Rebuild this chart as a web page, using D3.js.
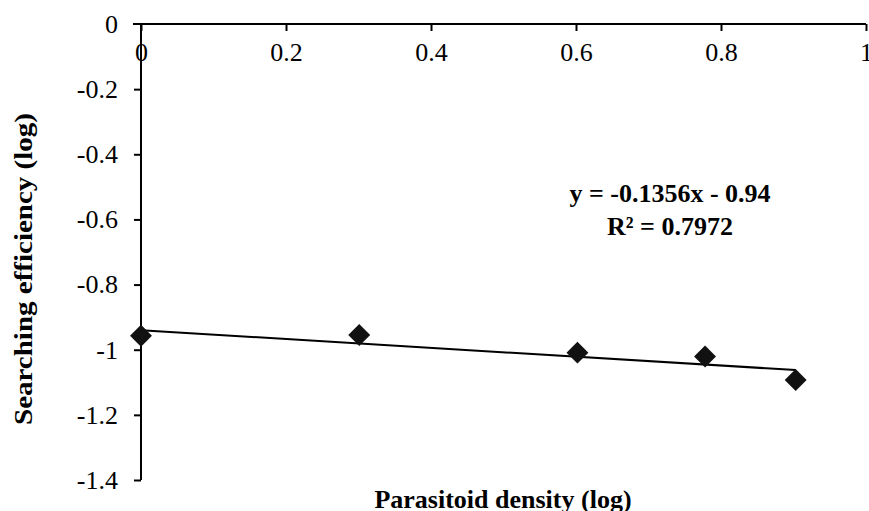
<!DOCTYPE html>
<html><head><meta charset="utf-8">
<script src="https://cdn.jsdelivr.net/npm/d3@7"></script>
<style>body{margin:0;background:#fff}svg{display:block}</style>
</head><body>
<svg id="c" width="869" height="511"></svg>
<script>
const xValues = [0, 0.301, 0.602, 0.778, 0.903];
const yValues = [-0.957, -0.955, -1.009, -1.021, -1.093];
const xTicks = [0, 0.2, 0.4, 0.6, 0.8, 1];
const yTicks = [0, -0.2, -0.4, -0.6, -0.8, -1, -1.2, -1.4];
const slope = -0.1356, intercept = -0.94;
const eqLines = ["y = -0.1356x - 0.94", "R² = 0.7972"];

const svg = d3.select("#c");
const font = "'Liberation Serif','Times New Roman',serif";
const fmt = d => String(+d.toFixed(1));
const x = d3.scaleLinear().domain([0, 1]).range([141, 866]);
const y = d3.scaleLinear().domain([0, -1.4]).range([24, 480]);

// x axis at top (y=0), labels below line
const xa = svg.append("g").attr("transform", `translate(0,${y(0)})`)
  .call(d3.axisBottom(x).tickValues(xTicks).tickFormat(fmt).tickSize(7).tickPadding(12));
xa.select(".domain").attr("stroke", "#000").attr("stroke-width", 2).attr("d", `M${x(0)-8},0H${x(1)}`);
xa.selectAll(".tick line").attr("stroke", "#000").attr("stroke-width", 2);
xa.selectAll(".tick text").attr("font-family", font).attr("font-size", 26).attr("fill", "#000");

const ya = svg.append("g").attr("transform", `translate(${x(0)},0)`)
  .call(d3.axisLeft(y).tickValues(yTicks).tickFormat(fmt).tickSize(7).tickPadding(16));
ya.select(".domain").attr("stroke", "#000").attr("stroke-width", 2).attr("d", `M0,${y(0)}V${y(-1.4)}`);
ya.selectAll(".tick line").attr("stroke", "#000").attr("stroke-width", 2);
ya.selectAll(".tick text").attr("font-family", font).attr("font-size", 26).attr("fill", "#000");
ya.selectAll(".tick").filter(d => d === 0).select("line").remove();

// trendline
const xmin = d3.min(xValues), xmax = d3.max(xValues);
svg.append("line")
  .attr("x1", x(xmin)).attr("y1", y(slope * xmin + intercept))
  .attr("x2", x(xmax)).attr("y2", y(slope * xmax + intercept))
  .attr("stroke", "#000").attr("stroke-width", 2);

// diamonds
const data = xValues.map((v, i) => [v, yValues[i]]);
svg.append("g").selectAll("path").data(data).join("path")
  .attr("d", d3.symbol().type(d3.symbolSquare).size(240))
  .attr("transform", d => `translate(${x(d[0])},${y(d[1])}) rotate(45)`)
  .attr("fill", "#111");

// equation
svg.append("g").selectAll("text").data(eqLines).join("text")
  .attr("x", 670).attr("y", (d, i) => 202 + i * 33)
  .attr("text-anchor", "middle").attr("font-family", font)
  .attr("font-weight", "bold").attr("font-size", 26).attr("fill", "#000")
  .text(d => d);

// axis titles
svg.append("text").attr("x", 503).attr("y", 508).attr("text-anchor", "middle")
  .attr("font-family", font).attr("font-weight", "bold").attr("font-size", 26)
  .text("Parasitoid density (log)");
svg.append("text").attr("transform", "translate(32,269) rotate(-90)").attr("text-anchor", "middle")
  .attr("font-family", font).attr("font-weight", "bold").attr("font-size", 26)
  .attr("textLength", 312).attr("lengthAdjust", "spacingAndGlyphs")
  .text("Searching efficiency (log)");
</script>
</body></html>
